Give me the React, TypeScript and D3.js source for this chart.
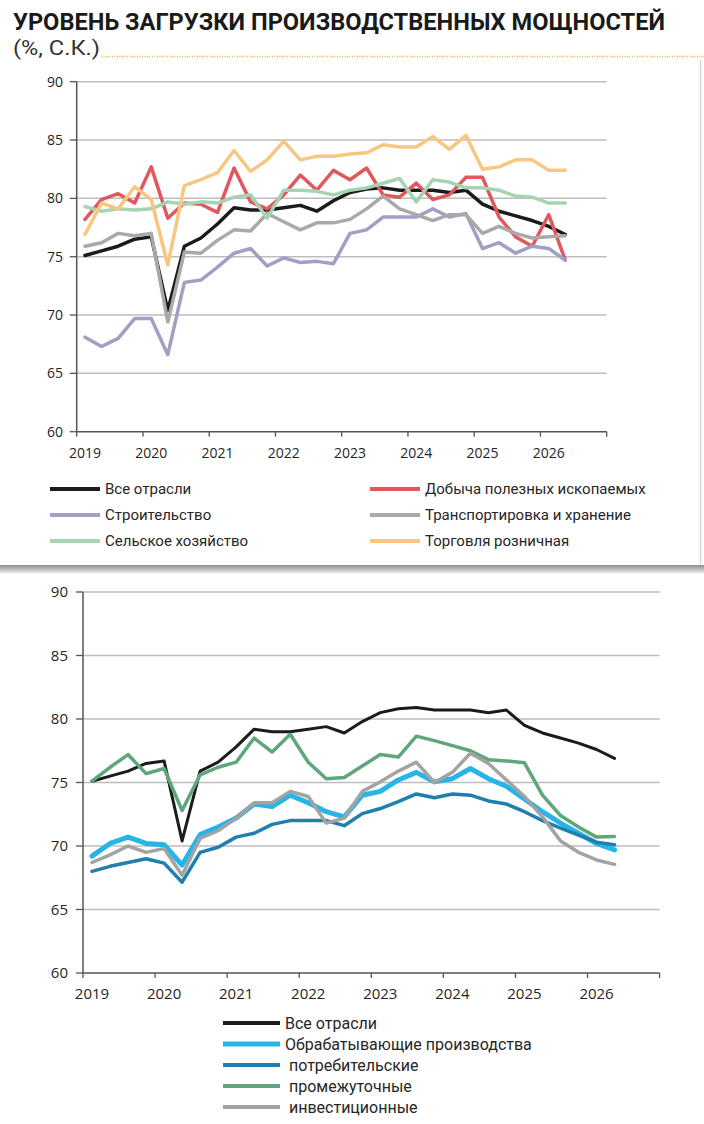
import * as d3 from 'd3';

// quarterly observations, 2019Q1 .. 2026Q2
const quarters = [
  "2019Q1", "2019Q2", "2019Q3", "2019Q4", "2020Q1", "2020Q2", "2020Q3", "2020Q4",
  "2021Q1", "2021Q2", "2021Q3", "2021Q4", "2022Q1", "2022Q2", "2022Q3", "2022Q4",
  "2023Q1", "2023Q2", "2023Q3", "2023Q4", "2024Q1", "2024Q2", "2024Q3", "2024Q4",
  "2025Q1", "2025Q2", "2025Q3", "2025Q4", "2026Q1", "2026Q2",
];

const yearTicks = [2019, 2020, 2021, 2022, 2023, 2024, 2025, 2026, 2027];
const yearLabels = ["2019", "2020", "2021", "2022", "2023", "2024", "2025", "2026"];
const valueTicks = [60, 65, 70, 75, 80, 85, 90];

const allSectors = [75.1, 75.5, 75.9, 76.5, 76.7, 70.4, 75.9, 76.6, 77.8, 79.2, 79.0, 79.0, 79.2, 79.4, 78.9, 79.8, 80.5, 80.8, 80.9, 80.7, 80.7, 80.7, 80.5, 80.7, 79.5, 78.9, 78.5, 78.1, 77.6, 76.9];
const mining = [78.2, 79.9, 80.4, 79.6, 82.7, 78.3, 79.6, 79.5, 78.8, 82.6, 79.7, 79.1, 80.3, 82.0, 80.7, 82.4, 81.6, 82.6, 80.3, 80.1, 81.3, 79.9, 80.3, 81.8, 81.8, 78.4, 76.7, 75.9, 78.6, 74.7];
const construction = [68.1, 67.3, 68.0, 69.7, 69.7, 66.6, 72.8, 73.0, 74.1, 75.3, 75.7, 74.2, 74.9, 74.5, 74.6, 74.4, 77.0, 77.3, 78.4, 78.4, 78.4, 79.1, 78.4, 78.7, 75.7, 76.2, 75.3, 75.9, 75.7, 74.7];
const transport = [75.9, 76.2, 77.0, 76.8, 77.0, 69.4, 75.4, 75.3, 76.4, 77.3, 77.2, 78.7, 78.0, 77.3, 77.9, 77.9, 78.2, 79.1, 80.2, 79.1, 78.6, 78.1, 78.6, 78.6, 77.0, 77.6, 77.0, 76.6, 76.7, 76.8];
const agriculture = [79.3, 78.9, 79.1, 79.0, 79.1, 79.7, 79.5, 79.7, 79.6, 80.1, 80.3, 78.3, 80.7, 80.7, 80.6, 80.3, 80.7, 80.9, 81.3, 81.7, 79.7, 81.6, 81.4, 80.9, 80.9, 80.7, 80.2, 80.1, 79.6, 79.6];
const retail = [76.9, 79.6, 79.1, 81.0, 79.9, 74.3, 81.1, 81.6, 82.2, 84.1, 82.3, 83.3, 84.9, 83.3, 83.6, 83.6, 83.8, 83.9, 84.6, 84.4, 84.4, 85.3, 84.2, 85.4, 82.5, 82.7, 83.3, 83.3, 82.4, 82.4];

const manufacturing = [69.2, 70.2, 70.7, 70.2, 70.1, 68.5, 70.9, 71.5, 72.2, 73.3, 73.1, 74.0, 73.4, 72.7, 72.3, 74.0, 74.3, 75.2, 75.8, 75.05, 75.3, 76.1, 75.3, 74.7, 73.7, 72.7, 71.8, 71.0, 70.2, 69.7];
const consumer = [68.0, 68.4, 68.7, 69.0, 68.65, 67.15, 69.5, 69.9, 70.7, 71.0, 71.7, 72.0, 72.0, 72.0, 71.6, 72.55, 72.95, 73.5, 74.1, 73.8, 74.1, 74.0, 73.55, 73.3, 72.7, 72.0, 71.4, 70.85, 70.3, 70.1];
const intermediate = [75.1, 76.2, 77.2, 75.7, 76.1, 72.8, 75.6, 76.2, 76.6, 78.5, 77.4, 78.8, 76.6, 75.3, 75.4, 76.3, 77.2, 77.0, 78.65, 78.3, 77.9, 77.5, 76.8, 76.7, 76.55, 74.0, 72.4, 71.5, 70.7, 70.75];
const investment = [68.7, 69.3, 70.0, 69.5, 69.8, 67.7, 70.6, 71.2, 72.2, 73.4, 73.4, 74.3, 73.9, 71.8, 72.2, 74.3, 75.05, 75.9, 76.6, 75.0, 75.8, 77.3, 76.5, 75.2, 73.9, 72.3, 70.4, 69.5, 68.9, 68.55];

interface Series {
    name: string;
    values: number[];
    color: string;
    width: number;
}

const topSeries: Series[] = [
    { name: "Все отрасли", values: allSectors, color: "#1b1b1b", width: 3.5 },
    { name: "Добыча полезных ископаемых", values: mining, color: "#e0575e", width: 3.5 },
    { name: "Строительство", values: construction, color: "#a19fc4", width: 3.5 },
    { name: "Транспортировка и хранение", values: transport, color: "#a9a9a9", width: 3.5 },
    { name: "Сельское хозяйство", values: agriculture, color: "#a6d4b3", width: 3.5 },
    { name: "Торговля розничная", values: retail, color: "#f8c681", width: 3.5 },
];

const bottomSeries: Series[] = [
    { name: "Все отрасли", values: allSectors, color: "#1b1b1b", width: 3 },
    { name: "Обрабатывающие производства", values: manufacturing, color: "#27b4e6", width: 5 },
    { name: " потребительские", values: consumer, color: "#1f7fae", width: 3.5 },
    { name: " промежуточные", values: intermediate, color: "#5fa67a", width: 3.5 },
    { name: " инвестиционные", values: investment, color: "#a3a3a3", width: 3.5 },
];

const quarterPos = (q: string) => {
    const year = +q.slice(0, 4);
    const n = +q.slice(5);
    return year + (n - 1) * 0.25 + 0.125;
};

interface ChartProps {
    series: Series[];
    x: d3.ScaleLinear<number, number>;
    y: d3.ScaleLinear<number, number>;
    labelRight: number;
    fontSize: number;
}

const LineChart = ({ series, x, y, labelRight, fontSize }: ChartProps) => {
    const [x0, x1] = x.range();
    const base = y(60);
    const line = d3.line<number>()
        .x((_, i) => x(quarterPos(quarters[i])))
        .y(d => y(d));

    return (
        <g fontFamily="'Open Sans', sans-serif" fontSize={fontSize} fill="#262626">
            {valueTicks.slice(1).map(v => (
                <line key={v} x1={x0} x2={x1} y1={y(v)} y2={y(v)} stroke="#bdbdbd" strokeWidth={1.5} />
            ))}
            {valueTicks.map(v => (
                <g key={v}>
                    <line x1={x0 - 7} x2={x0} y1={y(v)} y2={y(v)} stroke="#555" strokeWidth={1.3} />
                    <text x={labelRight} y={y(v)} dy="0.35em" textAnchor="end">{v}</text>
                </g>
            ))}
            <line x1={x0} x2={x0} y1={y(90)} y2={base} stroke="#555" strokeWidth={1.5} />
            <line x1={x0} x2={x1} y1={base} y2={base} stroke="#555" strokeWidth={1.5} />
            {yearTicks.map(t => (
                <line key={t} x1={x(t)} x2={x(t)} y1={base} y2={base + 5} stroke="#555" strokeWidth={1.3} />
            ))}
            {yearLabels.map(l => (
                <text key={l} x={x(+l + 0.125)} y={base + 26} textAnchor="middle">{l}</text>
            ))}
            {series.map(s => (
                <path key={s.name} d={line(s.values) ?? ""} fill="none" stroke={s.color}
                    strokeWidth={s.width} strokeLinejoin="round" strokeLinecap="round" />
            ))}
        </g>
    );
};

const App = () => {
    const xTop = d3.scaleLinear().domain([2019, 2027]).range([76.7, 606.7]);
    const yTop = d3.scaleLinear().domain([60, 90]).range([431.7, 81.7]);
    const xBot = d3.scaleLinear().domain([2019, 2027]).range([83, 659.6]);
    const yBot = d3.scaleLinear().domain([60, 90]).range([973, 592]);

    return (
        <svg width="704" height="1124" style={{ display: "block", background: "#fff" }}>
            <style>{`body{margin:0}`}</style>
            <defs>
                <linearGradient id="shadow" x1="0" y1="0" x2="0" y2="1">
                    <stop offset="0%" stopColor="#8c8c8c" />
                    <stop offset="100%" stopColor="#e8e8e8" />
                </linearGradient>
            </defs>

            {/* header */}
            <text x={13} y={30} fontFamily="Roboto, sans-serif" fontWeight="bold" fontSize={24}
                textLength={652} lengthAdjust="spacingAndGlyphs" fill="#1a1a1a">
                УРОВЕНЬ ЗАГРУЗКИ ПРОИЗВОДСТВЕННЫХ МОЩНОСТЕЙ
            </text>
            <text x={13} y={55} fontFamily="Roboto, sans-serif" fontSize={20} fill="#333"
                textLength={87} lengthAdjust="spacingAndGlyphs">(%, С.К.)</text>
            <line x1={102} x2={704} y1={56.5} y2={56.5} stroke="#dcb940" strokeWidth={1.3} strokeDasharray="1 1.5" />

            {/* card edges */}
            <rect x={0} y={565} width={704} height={8} fill="url(#shadow)" />
            <line x1={700.5} x2={700.5} y1={60} y2={565} stroke="#d6d6d6" strokeWidth={1.5} />

            <LineChart series={topSeries} x={xTop} y={yTop} labelRight={63} fontSize={14} />
            <LineChart series={bottomSeries} x={xBot} y={yBot} labelRight={68} fontSize={15} />

            {/* top legend, two columns */}
            <g fontFamily="Roboto, sans-serif" fontSize={15} fill="#262626">
                {topSeries.map((s, i) => {
                    const col = i % 2;
                    const row = Math.floor(i / 2);
                    const lx = col === 0 ? 50 : 370;
                    const ly = 489 + row * 26;
                    return (
                        <g key={s.name}>
                            <line x1={lx} x2={lx + 50} y1={ly} y2={ly} stroke={s.color} strokeWidth={4} />
                            <text x={lx + 55} y={ly} dy="0.35em">{s.name}</text>
                        </g>
                    );
                })}
            </g>

            {/* bottom legend, one column */}
            <g fontFamily="Roboto, sans-serif" fontSize={16} fill="#262626">
                {bottomSeries.map((s, i) => {
                    const ly = 1023 + i * 21;
                    return (
                        <g key={s.name}>
                            <line x1={223} x2={280} y1={ly} y2={ly} stroke={s.color} strokeWidth={s.width > 4 ? 5 : 4} />
                            <text x={285} y={ly} dy="0.35em" style={{ whiteSpace: "pre" }}>{s.name}</text>
                        </g>
                    );
                })}
            </g>
        </svg>
    );
};

export default App;
